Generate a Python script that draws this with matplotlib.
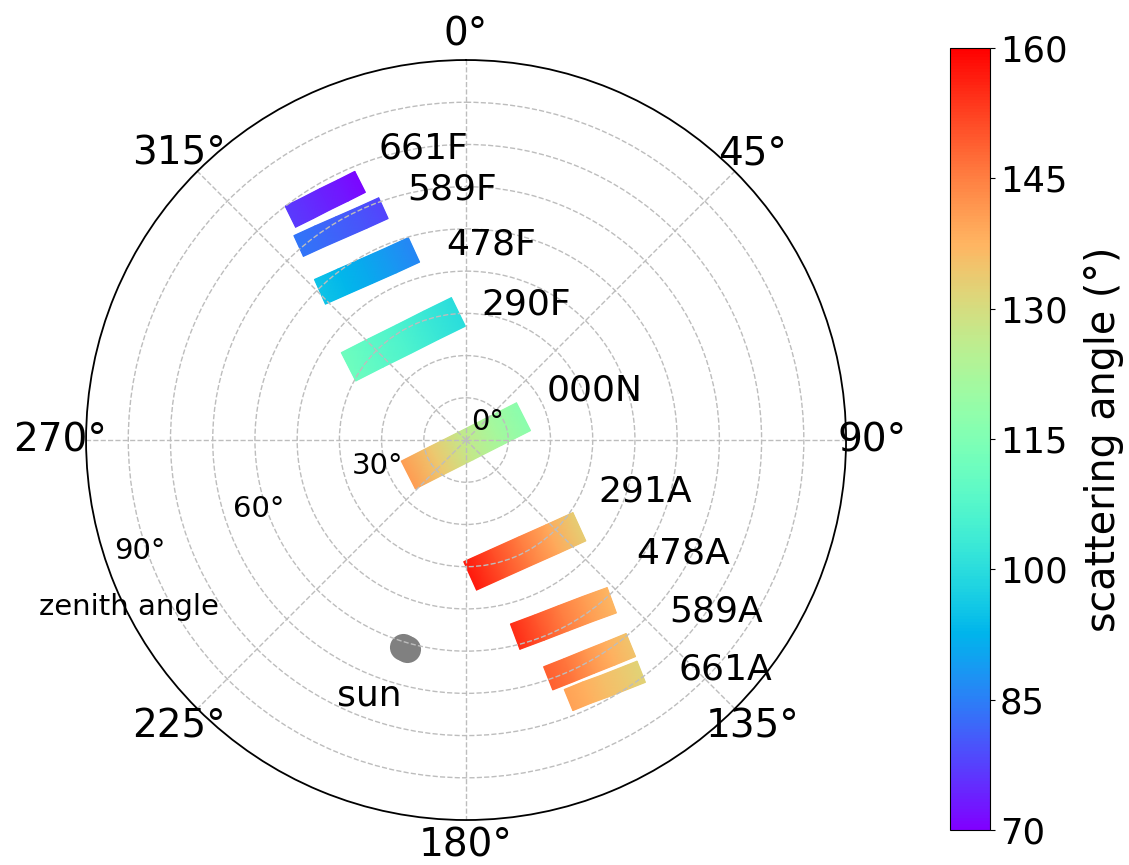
import numpy as np
import matplotlib
matplotlib.use("Agg")
import matplotlib.pyplot as plt
from matplotlib.colors import Normalize
from matplotlib.cm import ScalarMappable
from matplotlib.collections import TriMesh
from matplotlib.tri import Triangulation
from matplotlib.transforms import IdentityTransform

# camera tracks: view azimuth (deg, clockwise from north), view zenith (deg),
# scattering angle (deg), sampled along the swath
CAMERAS = ["661F", "589F", "478F", "290F", "000N", "291A", "478A", "589A", "661A"]

AZ_661F = [321.8, 325.7, 329.6, 333.7, 337.7]
ZEN_661F = [67.3, 66.5, 66.1, 65.9, 66.1]
SCA_661F = [77.0, 75.5, 74.0, 72.5, 71.0]

AZ_589F = [319.2, 324.3, 329.5, 334.9, 340.4]
ZEN_589F = [60.7, 59.4, 58.5, 58.1, 58.3]
SCA_589F = [84.0, 82.5, 81.0, 79.5, 78.0]

AZ_478F = [315.4, 322.3, 329.6, 337.2, 344.7]
ZEN_478F = [49.3, 47.5, 46.4, 46.1, 46.7]
SCA_478F = [95.0, 93.0, 91.0, 88.5, 86.0]

AZ_290F = [301.9, 314.0, 328.1, 342.9, 356.6]
ZEN_290F = [32.8, 29.7, 28.1, 28.4, 30.4]
SCA_290F = [112.0, 109.0, 106.0, 103.0, 100.0]

AZ_000N = [238.8, 234.9, 181.9, 73.0, 67.9]
ZEN_000N = [16.0, 8.4, 1.4, 7.1, 14.7]
SCA_000N = [141.0, 134.0, 127.0, 122.0, 117.0]

AZ_291A = [178.3, 165.8, 152.2, 139.0, 127.4]
ZEN_291A = [32.2, 30.2, 29.8, 31.1, 33.8]
SCA_291A = [157.0, 151.0, 145.0, 139.0, 133.0]

AZ_478A = [166.0, 158.7, 151.4, 144.3, 137.7]
ZEN_478A = [48.0, 47.7, 48.1, 49.3, 51.3]
SCA_478A = [155.0, 150.0, 145.0, 141.0, 137.0]

AZ_589A = [161.0, 155.9, 150.9, 146.0, 141.2]
ZEN_589A = [59.7, 59.7, 60.1, 61.0, 62.3]
SCA_589A = [149.0, 146.0, 142.0, 138.0, 135.0]

AZ_661A = [158.5, 154.5, 150.6, 146.7, 142.9]
ZEN_661A = [66.2, 66.3, 66.9, 67.7, 68.8]
SCA_661A = [140.0, 138.0, 136.0, 134.0, 132.0]

SUN_AZ = [195.7, 196.9]
SUN_ZEN = [51.3, 51.3]

TRACKS = {
    "661F": (AZ_661F, ZEN_661F, SCA_661F),
    "589F": (AZ_589F, ZEN_589F, SCA_589F),
    "478F": (AZ_478F, ZEN_478F, SCA_478F),
    "290F": (AZ_290F, ZEN_290F, SCA_290F),
    "000N": (AZ_000N, ZEN_000N, SCA_000N),
    "291A": (AZ_291A, ZEN_291A, SCA_291A),
    "478A": (AZ_478A, ZEN_478A, SCA_478A),
    "589A": (AZ_589A, ZEN_589A, SCA_589A),
    "661A": (AZ_661A, ZEN_661A, SCA_661A),
}

# stroke width (pt) of each swath and where its name goes (az, zenith)
WIDTH = {"661F": 17, "589F": 16.5, "478F": 19.5, "290F": 23, "000N": 22.5,
         "291A": 22.5, "478A": 19.5, "589A": 18, "661A": 16.5}
LABEL_POS = {"661F": (351.6, 69.9), "589F": (356.8, 59.5), "478F": (7.3, 46.6),
             "290F": (23.8, 35.2), "000N": (69.2, 32.7), "291A": (106.2, 44.1),
             "478A": (117.5, 58.0), "589A": (124.5, 71.9), "661A": (131.5, 81.9)}

VMIN, VMAX = 70, 160
DPI = 100
cmap = plt.get_cmap("rainbow")
norm = Normalize(VMIN, VMAX)

fig = plt.figure(figsize=(11.29, 8.65), dpi=DPI)
ax = fig.add_axes([0.0762, 0.052, 0.6732, 0.8786], projection="polar")
ax.set_theta_zero_location("N")
ax.set_theta_direction(-1)
ax.set_ylim(0, 90)
ax.set_yticks(np.arange(10, 90, 10))
ax.set_yticklabels([])
ax.set_xticks(np.radians(np.arange(0, 360, 45)))
ax.set_xticklabels([f"{d}°" for d in range(0, 360, 45)], fontsize=28)
ax.tick_params(axis="x", pad=8)
ax.grid(True, ls="--", color="#bdbdbd", lw=1.0)
ax.spines["polar"].set_linewidth(1.3)


def swath(cam):
    """Thick stroke along the track with the scattering angle shaded smoothly."""
    az, zen, sca = (np.asarray(v, dtype=float) for v in TRACKS[cam])
    th = np.radians(az)
    w_pt = WIDTH[cam]
    # solid underlay hides hairline seams between the shaded triangles
    ax.plot(th, zen, lw=w_pt, color=cmap(norm(sca.mean())),
            solid_capstyle="butt", solid_joinstyle="round", zorder=1)

    p = ax.transData.transform(np.column_stack([th, zen]))
    tang = np.gradient(p, axis=0)
    tang /= np.hypot(tang[:, 0], tang[:, 1])[:, None]
    nrm = np.column_stack([-tang[:, 1], tang[:, 0]])
    half = 0.5 * w_pt * DPI / 72.0
    left, right = p + nrm * half, p - nrm * half
    verts = np.empty((2 * len(p), 2))
    verts[0::2], verts[1::2] = left, right
    tris = []
    for i in range(len(p) - 1):
        a, b, c, d = 2 * i, 2 * i + 1, 2 * i + 2, 2 * i + 3
        tris += [[a, b, c], [b, d, c]]
    mesh = TriMesh(Triangulation(verts[:, 0], verts[:, 1], np.array(tris)),
                   array=np.repeat(sca, 2), cmap=cmap, norm=norm,
                   transform=IdentityTransform(), zorder=1.1)
    mesh.set_clip_path(ax.patch)
    ax.add_collection(mesh, autolim=False)

    la, lr = LABEL_POS[cam]
    ax.text(np.radians(la), lr, cam, fontsize=26, ha="center", va="center")


for cam in CAMERAS:
    swath(cam)

ax.scatter(np.radians(SUN_AZ), SUN_ZEN, s=380, color="gray", lw=0, zorder=1)
ax.text(np.radians(200.8), 64.6, "sun", fontsize=26, ha="center", va="center")

# zenith-angle annotations along the WSW direction
for txt, a, r in [("0°", 49.4, 6.6), ("30°", 253.6, 21.8),
                  ("60°", 251.6, 51.7), ("90°", 251.2, 81.6)]:
    ax.text(np.radians(a), r, txt, fontsize=21, ha="center", va="center")
ax.text(np.radians(243.6), 89.1, "zenith angle", fontsize=21,
        ha="center", va="center")

cax = fig.add_axes([0.8415, 0.0405, 0.0354, 0.904])
sm = ScalarMappable(norm=norm, cmap=cmap)
cb = fig.colorbar(sm, cax=cax)
cb.set_ticks(np.arange(70, 161, 15))
cb.ax.tick_params(labelsize=25.5)
cb.set_label("scattering angle (°)", fontsize=28.5, labelpad=12)

fig.savefig("out.png", dpi=DPI)
